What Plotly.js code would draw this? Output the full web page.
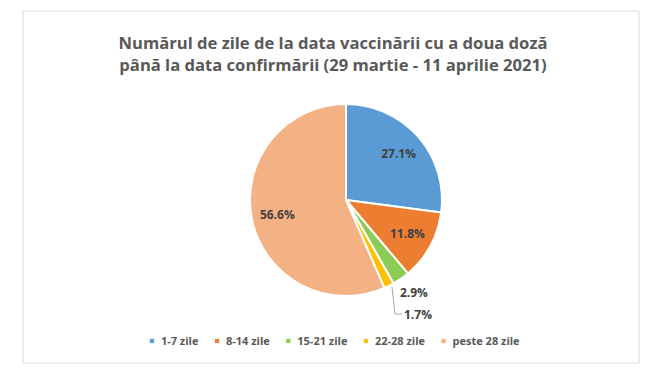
<!DOCTYPE html>
<html><head><meta charset="utf-8">
<script src="https://cdn.plot.ly/plotly-3.0.1.min.js"></script>
<style>html,body{margin:0;padding:0;background:#fff;}</style>
</head><body>
<div id="chart" style="width:666px;height:384px;"></div>
<script>
const categories = ["1-7 zile", "8-14 zile", "15-21 zile", "22-28 zile", "peste 28 zile"];
const values = [27.1, 11.8, 2.9, 1.7, 56.6];
const colors = ["#5B9BD5", "#ED7D31", "#8CCB55", "#FFC000", "#F4B183"];
const textPositions = ["inside", "inside", "outside", "outside", "inside"];

const W = 666, H = 384;
const cx = 346, cy = 200, r = 96;

const trace = {
  type: "pie",
  labels: categories,
  values: values,
  sort: false,
  direction: "clockwise",
  rotation: 0,
  marker: {colors: colors, line: {color: "#ffffff", width: 2}},
  textinfo: "percent",
  texttemplate: "%{value:.1f}%",
  textposition: textPositions,
  insidetextorientation: "horizontal",
  textfont: {family: "Open Sans, sans-serif", size: 12, color: "#404040", weight: "bold"},
  outsidetextfont: {family: "Open Sans, sans-serif", size: 12, color: "#404040", weight: "bold"},
  domain: {x: [(cx - r) / W, (cx + r) / W], y: [(H - cy - r) / H, (H - cy + r) / H]},
  hoverinfo: "none"
};

const layout = {
  width: W, height: H,
  margin: {l: 0, r: 0, t: 0, b: 0},
  paper_bgcolor: "#ffffff",
  showlegend: true,
  title: {
    text: "Numărul de zile de la data vaccinării cu a doua doză<br>până la data confirmării (29 martie - 11 aprilie 2021)",
    font: {family: "Open Sans, sans-serif", size: 16.6, color: "#595959", weight: "bold"},
    x: 0.5, xanchor: "center", y: 1 - 49 / H, yanchor: "middle", yref: "paper"
  },
  legend: {
    orientation: "h", x: 0.51, xanchor: "center", y: 1 - 341 / H, yanchor: "middle",
    font: {family: "Open Sans, sans-serif", size: 11, color: "#595959", weight: "bold"},
    itemwidth: 30, traceorder: "normal"
  },
  shapes: [{
    type: "rect", xref: "paper", yref: "paper",
    x0: 23 / W, x1: 639 / W, y0: 1 - 363 / H, y1: 1 - 11 / H,
    line: {color: "#D9D9D9", width: 1}
  }]
};

function prependTranslate(el, dx, dy) {
  const old = el.getAttribute("transform") || "";
  el.setAttribute("transform", "translate(" + dx + "," + dy + ") " + old);
}

function adjust(gd) {
  const total = values.reduce((a, b) => a + b, 0);
  let cum = 0;
  const mids = values.map(v => { const m = (cum + v / 2) / total * 2 * Math.PI; cum += v; return m; });
  const slices = gd.querySelectorAll(".pielayer .slice");
  let outsideRank = 0;
  slices.forEach((s, i) => {
    const t = s.querySelector("text.slicetext");
    if (!t) return;
    const b = t.getBoundingClientRect();
    const curX = b.left + b.width / 2, curY = b.top + b.height / 2;
    if (textPositions[i] === "inside") {
      const tx = cx + 0.73 * r * Math.sin(mids[i]);
      const ty = cy - 0.73 * r * Math.cos(mids[i]);
      prependTranslate(t, tx - curX, ty - curY);
    } else {
      const ex = cx + r * Math.sin(mids[i]);
      const ey = cy - r * Math.cos(mids[i]);
      const line = s.querySelector("path.textline");
      if (outsideRank === 0) {
        const tl = ex - 1, ty = ey + 14;
        prependTranslate(t, tl - b.left, ty - curY);
        if (line) line.setAttribute("d", "");
      } else {
        const ty = 314, tl = ex + 15;
        prependTranslate(t, tl - b.left, ty - curY);
        if (line) {
          line.setAttribute("d", "M" + (ex + 3) + "," + (ey + 1) + "L" + (ex + 6) + "," + ty + "L" + (tl - 2) + "," + ty);
          line.style.stroke = "#A6A6A6";
          line.style.strokeWidth = "1px";
          line.style.fill = "none";
        }
      }
      outsideRank++;
    }
  });

  const items = Array.from(gd.querySelectorAll(".legend .traces"));
  const sqGap = 9, itemGap = 18, legendCenter = 334;
  const info = items.map(g => {
    const txt = g.querySelector("text.legendtext");
    const p = g.querySelector("path.legendpie");
    if (p) p.setAttribute("transform", (p.getAttribute("transform") || "") + " scale(0.42)");
    return {g, txt, p, tw: txt.getBBox().width};
  });
  let span = 0;
  info.forEach((it, i) => { span += sqGap + it.tw + (i < info.length - 1 ? itemGap : 0); });
  let x = legendCenter - span / 2 + 2;
  info.forEach(it => {
    const sq = x;
    const tl = x + sqGap;
    const tb = it.txt.getBoundingClientRect();
    prependTranslate(it.txt, tl - tb.left, 0);
    if (it.p) {
      const pb = it.p.getBoundingClientRect();
      prependTranslate(it.p, sq - (pb.left + pb.width / 2), 0);
    }
    x = tl + it.tw + itemGap;
  });
}

Plotly.newPlot("chart", [trace], layout, {displayModeBar: false, staticPlot: true})
  .then(gd => adjust(gd));
</script>
</body></html>
